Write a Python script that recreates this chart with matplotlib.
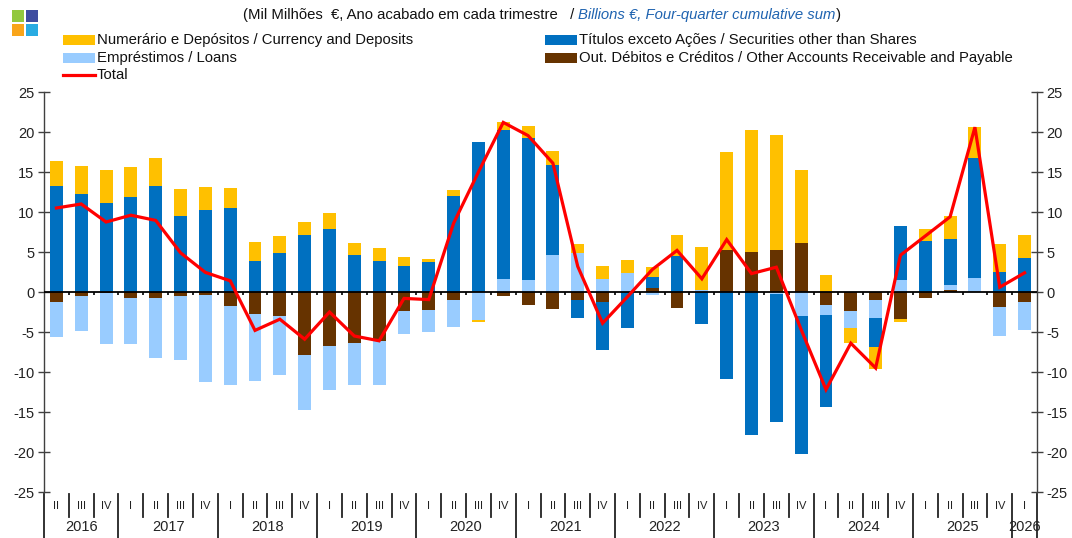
import matplotlib
matplotlib.use("Agg")
import matplotlib.pyplot as plt
import matplotlib.transforms as mtransforms
from matplotlib.patches import Rectangle
from matplotlib.lines import Line2D
from matplotlib import font_manager as fm
import numpy as np

# ---------------- data ----------------
quarters = ['II', 'III', 'IV'] + ['I', 'II', 'III', 'IV'] * 9 + ['I']
years = ['2016', '2017', '2018', '2019', '2020', '2021', '2022', '2023', '2024', '2025', '2026']
year_counts = [3, 4, 4, 4, 4, 4, 4, 4, 4, 4, 1]

currency = [3.1, 3.55, 4.15, 3.7, 3.5, 3.45, 2.9, 2.4, 2.35, 2.15,
            1.65, 2.0, 1.5, 1.55, 1.2, 0.4, 0.65, -0.3, 1.0, 1.45,
            1.75, 1.1, 1.65, 1.6, 1.25, 2.7, 5.3, 12.3, 15.25, 14.3,
            9.15, 2.1, -1.9, -2.7, -0.4, 1.5, 2.85, 3.9, 3.55, 2.85]
securities = [13.3, 12.25, 11.1, 11.9, 13.3, 9.45, 10.2, 10.55, 3.9, 4.85,
              7.15, 7.9, 4.65, 3.9, 3.2, 3.7, 12.05, 18.75, 18.6, 17.8,
              11.3, -2.3, -5.9, -4.5, 1.35, 4.45, -3.95, -10.9, -17.9, -15.9,
              -17.2, -11.5, 0.0, -3.6, 6.75, 6.4, 5.7, 14.95, 2.45, 4.25]
loans = [-4.4, -4.45, -6.3, -5.75, -7.6, -8.0, -10.85, -9.9, -8.4, -7.4,
         -6.8, -5.6, -5.2, -5.5, -2.9, -2.8, -3.3, -3.45, 1.6, 1.45,
         4.6, 4.9, 1.6, 2.4, -0.4, 0.0, 0.3, 0.0, 0.0, -0.3,
         -3.05, -1.3, -2.1, -2.3, 1.45, 0.0, 0.7, 1.75, -3.65, -3.55]
other = [-1.2, -0.45, -0.15, -0.8, -0.7, -0.45, -0.35, -1.7, -2.7, -2.95,
         -7.9, -6.7, -6.4, -6.1, -2.35, -2.2, -1.05, 0.0, -0.45, -1.6,
         -2.1, -0.95, -1.3, 0.0, 0.5, -2.0, 0.0, 5.2, 5.0, 5.3,
         6.1, -1.6, -2.4, -1.0, -3.35, -0.75, 0.2, 0.0, -1.9, -1.25]
total = [10.5, 11.0, 8.75, 9.6, 8.95, 4.9, 2.45, 1.4, -4.8, -3.4,
         -5.9, -2.5, -5.5, -6.1, -0.8, -0.95, 8.6, 15.0, 21.2, 19.55,
         16.1, 3.2, -3.9, -0.6, 2.8, 5.2, 1.65, 6.55, 2.3, 3.1,
         -4.7, -12.2, -6.4, -9.5, 4.6, 7.0, 9.4, 20.6, 0.6, 2.4]

labels = {
    'currency': 'Numerário e Depósitos / Currency and Deposits',
    'securities': 'Títulos exceto Ações / Securities other than Shares',
    'loans': 'Empréstimos / Loans',
    'other': 'Out. Débitos e Créditos / Other Accounts Receivable and Payable',
    'total': 'Total',
}
colors = {
    'currency': '#FFC000',
    'securities': '#0070C0',
    'loans': '#99CCFF',
    'other': '#663300',
    'total': '#FF0000',
}

# ---------------- fonts ----------------
names = {f.name for f in fm.fontManager.ttflist}
narrow = 'Liberation Sans Narrow' if 'Liberation Sans Narrow' in names else 'Liberation Sans'
regular = 'Liberation Sans' if 'Liberation Sans' in names else 'DejaVu Sans'
plt.rcParams['font.family'] = [regular, 'DejaVu Sans']
plt.rcParams['axes.unicode_minus'] = False

W, H = 1072, 538
fig = plt.figure(figsize=(W / 100, H / 100), dpi=100)


def px(x, y):
    return x / W, 1 - y / H


ax_left, ax_right, ax_top, ax_bottom = 44, 1037, 92, 492
ax = fig.add_axes([ax_left / W, 1 - ax_bottom / H,
                   (ax_right - ax_left) / W, (ax_bottom - ax_top) / H])

n = len(total)
x = np.arange(n)
bw = 0.52

series_order = [('other', other), ('loans', loans),
                ('securities', securities), ('currency', currency)]
pos_b = np.zeros(n)
neg_b = np.zeros(n)
for key, vals in series_order:
    v = np.array(vals, dtype=float)
    bottoms = np.where(v >= 0, pos_b, neg_b)
    ax.bar(x, v, bw, bottom=bottoms, color=colors[key], linewidth=0, zorder=2)
    pos_b = pos_b + np.where(v > 0, v, 0)
    neg_b = neg_b + np.where(v < 0, v, 0)

ax.axhline(0, color='black', lw=1.3, zorder=3)
# small ticks on the zero line at category boundaries
ax.vlines(x[:-1] + 0.5, -0.35, 0, color='black', lw=1.2, zorder=3)

ax.plot(x, total, color=colors['total'], lw=2.3, zorder=4, solid_joinstyle='miter')

ax.set_xlim(-0.5, n - 0.5)
ax.set_ylim(-25, 25)
ax.set_yticks(np.arange(-25, 26, 5))
ax.set_xticks([])
for s in ['top', 'bottom']:
    ax.spines[s].set_visible(False)
for s in ['left', 'right']:
    ax.spines[s].set_color('#404040')
    ax.spines[s].set_linewidth(1.0)
ax.tick_params(axis='y', which='both', left=True, right=True, labelleft=True,
               labelright=True, direction='inout', length=8, width=1.0,
               color='#404040', labelsize=10.5, labelcolor='#222222', pad=3)

# ---------------- category axis at bottom ----------------
trans = mtransforms.blended_transform_factory(ax.transData, ax.transAxes)
q_y = -(506 - ax_bottom) / (ax_bottom - ax_top)
y_y = -(527 - ax_bottom) / (ax_bottom - ax_top)
sep_top = -(494 - ax_bottom) / (ax_bottom - ax_top)
q_sep_bot = -(517 - ax_bottom) / (ax_bottom - ax_top)
y_sep_bot = -(538 - ax_bottom) / (ax_bottom - ax_top)

for i, q in enumerate(quarters):
    ax.text(i, q_y, q, transform=trans, ha='center', va='center',
            fontsize=8, color='#222222', clip_on=False)

year_bounds = list(np.cumsum([0] + year_counts) - 0.5)
for k, yr in enumerate(years):
    c = (year_bounds[k] + year_bounds[k + 1]) / 2
    ax.text(c, y_y, yr, transform=trans, ha='center', va='center',
            fontsize=10.5, color='#222222', clip_on=False)

for b in np.arange(-0.5, n, 1.0):
    is_year = any(abs(b - yb) < 1e-6 for yb in year_bounds)
    bot = y_sep_bot if is_year else q_sep_bot
    ax.add_line(Line2D([b, b], [sep_top, bot], transform=trans, color='#222222',
                       lw=1.3, clip_on=False))

# ---------------- logo ----------------
logo = [((12, 10), '#92C83E'), ((26, 10), '#3F4DA0'),
        ((12, 24), '#F9A51A'), ((26, 24), '#29ABE2')]
for (lx, ly), col in logo:
    fx, fy = px(lx, ly + 12)
    fig.add_artist(Rectangle((fx, fy), 12 / W, 12 / H, transform=fig.transFigure,
                             color=col, lw=0))

# ---------------- title ----------------
t1 = fig.text(*px(243, 15), '(Mil Milhões  €, Ano acabado em cada trimestre   / ',
              family=[narrow, 'DejaVu Sans'], fontsize=11, va='center', ha='left',
              color='#111111')
t2 = fig.text(*px(500, 15), 'Billions €, Four-quarter cumulative sum',
              family=[narrow, 'DejaVu Sans'], fontsize=11, va='center', ha='left',
              color='#1F63B0', style='italic')
t3 = fig.text(*px(800, 15), ')', family=[narrow, 'DejaVu Sans'], fontsize=11,
              va='center', ha='left', color='#111111')

fig.canvas.draw()
r = fig.canvas.get_renderer()
wsum = sum(t.get_window_extent(r).width for t in (t1, t2, t3))
scale = (838 - 243) / wsum
for t in (t1, t2, t3):
    t.set_fontsize(11 * scale)
fig.canvas.draw()
w1 = t1.get_window_extent(r).width
w2 = t2.get_window_extent(r).width
t2.set_position(px(243 + w1, 15))
t3.set_position(px(243 + w1 + w2, 15))

# ---------------- legend ----------------
legend_items = [
    ('currency', 63, 40, 415), ('securities', 545, 40, 917),
    ('loans', 63, 58, 223), ('other', 545, 58, 1013),
    ('total', 63, 75, 130),
]
ltexts = []
targets = 0
for key, lx, ly, rx in legend_items:
    if key == 'total':
        x0, y0 = px(lx, ly)
        x1, _ = px(lx + 32, ly)
        fig.add_artist(Line2D([x0, x1], [y0, y0], transform=fig.transFigure,
                              color=colors[key], lw=2.3))
    else:
        fx, fy = px(lx, ly + 5)
        fig.add_artist(Rectangle((fx, fy), 32 / W, 10 / H, transform=fig.transFigure,
                                 color=colors[key], lw=0))
    t = fig.text(*px(lx + 34, ly), labels[key], family=[narrow, 'DejaVu Sans'],
                 fontsize=11, va='center', ha='left', color='#111111')
    ltexts.append(t)
    targets += rx - (lx + 34)

fig.canvas.draw()
wsum = sum(t.get_window_extent(r).width for t in ltexts)
scale = targets / wsum
for t in ltexts:
    t.set_fontsize(11 * scale)

fig.savefig('out.png', dpi=100)
